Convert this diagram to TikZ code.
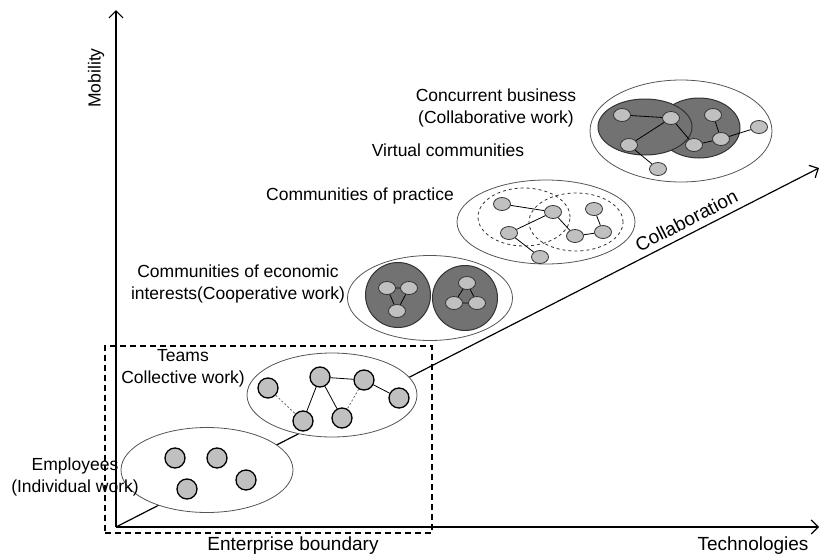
\documentclass[tikz,border=0pt]{standalone}
\usepackage{fontspec}
\setmainfont{Liberation Sans}
\usetikzlibrary{shapes.geometric, arrows.meta, positioning}
\definecolor{grpline}{HTML}{555555}
\definecolor{hubfill}{HTML}{727272}
\definecolor{dotfill}{HTML}{C0C0C0}
\definecolor{dotline}{HTML}{333333}

\begin{document}
\begin{tikzpicture}[
    x=1pt, y=-1pt,
    group/.style={ellipse, draw=grpline, fill=white, line width=0.8pt, inner sep=0pt},
    hub/.style={ellipse, draw=dotline, fill=hubfill, line width=1pt, inner sep=0pt},
    ring/.style={ellipse, draw=dotline, dashed, line width=0.8pt, inner sep=0pt},
    member/.style={circle, draw=black, fill=dotfill, line width=1.3pt, minimum size=20pt, inner sep=0pt},
    dot/.style={ellipse, draw=dotline, fill=dotfill, line width=0.8pt, minimum width=17pt, minimum height=13pt, inner sep=0pt},
    link/.style={draw=black, line width=0.8pt},
    weak/.style={draw=black!60, line width=0.8pt, dash pattern=on 2pt off 2pt},
    boundary/.style={draw=black, line width=1.2pt, dash pattern=on 6pt off 4pt, inner sep=0pt},
    label/.style={font=\fontsize{17.5}{22}\selectfont, align=center, inner sep=0pt},
    biglabel/.style={font=\fontsize{19}{23}\selectfont, align=center, inner sep=0pt},
    axis/.style={-{Straight Barb[length=7pt, width=14pt]}, line width=1.2pt}
]
\useasboundingbox (0,0) rectangle (820,557);

% Axes
\coordinate (o) at (116,527);
\coordinate (ytip) at (116,10);
\coordinate (xtip) at (819,527);
\coordinate (ctip) at (819,168);
\draw[axis] (o) -- (ytip);
\draw[axis] (o) -- (xtip);
\draw[axis] (o) -- (ctip) node[biglabel, pos=0.82, sloped, above=6pt] (collab) {Collaboration};

\node[label, rotate=90] (mob) at (96,78) {Mobility};
\node[biglabel] (tech) at (753,546) {Technologies};

% Enterprise boundary
\node[boundary, minimum width=327pt, minimum height=187pt] (ent) at (268.5,439.5) {};
\node[biglabel] (entlab) at (293,546) {Enterprise boundary};

% Employees
\node[group, minimum width=172pt, minimum height=85pt] (emp) at (207,470) {};
\node[member] (e1) at (175,458) {};
\node[member] (e2) at (217,458) {};
\node[member] (e3) at (187,489) {};
\node[member] (e4) at (246,480) {};
\node[label] (emplab) at (75,477) {Employees\\(Individual work)};

% Teams
\node[group, minimum width=170pt, minimum height=84pt] (team) at (332,395) {};
\node[member] (t1) at (268,388) {};
\node[member] (t2) at (320,377) {};
\node[member] (t3) at (364,380) {};
\node[member] (t4) at (399,398) {};
\node[member] (t5) at (303,421) {};
\node[member] (t6) at (342,418) {};
\draw[link] (t2) -- (t5);
\draw[link] (t2) -- (t6);
\draw[link] (t2) -- (t3);
\draw[link] (t3) -- (t4);
\draw[weak] (t1) -- (t5);
\draw[weak] (t3) -- (t6);
\node[label] (teamlab) at (183,368) {Teams\\Collective work)};

% Communities of economic interests
\node[group, minimum width=165pt, minimum height=85pt] (eco) at (430,298) {};
\node[hub, minimum size=65pt] (h1) at (398,295) {};
\node[hub, minimum size=65pt] (h2) at (465,298) {};
\node[dot] (a1) at (387,288) {};
\node[dot] (a2) at (409,288) {};
\node[dot] (a3) at (397,311) {};
\node[dot] (b1) at (467,283) {};
\node[dot] (b2) at (454,303) {};
\node[dot] (b3) at (477,303) {};
\draw[link] (a1) -- (a2) -- (a3) -- (a1);
\draw[link] (b1) -- (b2) -- (b3) -- (b1);
\node[label] (ecolab) at (238,284) {Communities of economic\\interests(Cooperative work)};

% Communities of practice
\node[group, minimum width=178pt, minimum height=84pt] (prac) at (546,222) {};
\node[ring, minimum width=92pt, minimum height=58pt] (r1) at (524,217) {};
\node[ring, minimum width=94pt, minimum height=58pt] (r2) at (576,222) {};
\node[dot] (p1) at (502,204) {};
\node[dot] (p2) at (553,212) {};
\node[dot] (p3) at (509,233) {};
\node[dot] (p4) at (540,257) {};
\node[dot] (p5) at (575,236) {};
\node[dot] (p6) at (594,209) {};
\node[dot] (p7) at (603,232) {};
\draw[link] (p1) -- (p2);
\draw[link] (p2) -- (p3);
\draw[link] (p3) -- (p4);
\draw[link] (p2) -- (p5);
\draw[link] (p5) -- (p7);
\draw[link] (p7) -- (p6);
\node[label] (praclab) at (360,196) {Communities of practice};

% Virtual communities / concurrent business
\node[group, minimum width=182pt, minimum height=102pt] (conc) at (681,131) {};
\node[hub, minimum width=82pt, minimum height=60pt] (h4) at (699,128) {};
\node[hub, minimum width=94pt, minimum height=56pt] (h3) at (645,127) {};
\node[dot] (c1) at (622,115) {};
\node[dot] (c2) at (671,118) {};
\node[dot] (c3) at (629,145) {};
\node[dot] (c4) at (713,115) {};
\node[dot] (c5) at (721,139) {};
\node[dot] (c6) at (694,145) {};
\node[dot] (c7) at (759,127) {};
\node[dot] (c8) at (658,169) {};
\draw[link] (c1) -- (c2);
\draw[link] (c2) -- (c3);
\draw[link] (c3) -- (c8);
\draw[link] (c2) -- (c6);
\draw[link] (c6) -- (c5);
\draw[link] (c5) -- (c4);
\draw[link] (c5) -- (c7);
\node[label] (virtlab) at (448,150) {Virtual communities};
\node[label] (conclab) at (496,108) {Concurrent business\\(Collaborative work)};

\end{tikzpicture}
\end{document}
